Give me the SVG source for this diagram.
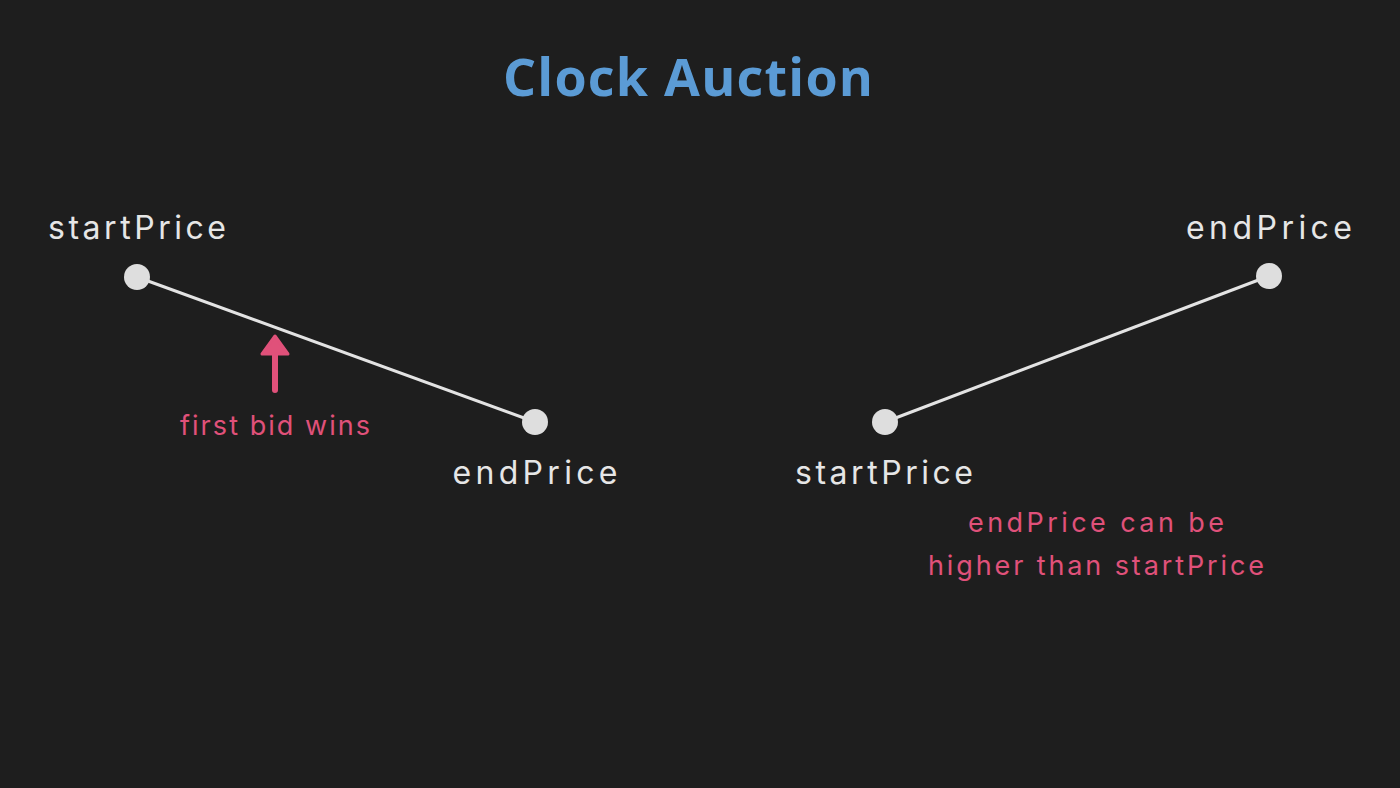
<svg xmlns="http://www.w3.org/2000/svg" width="1400" height="788" viewBox="0 0 1400 788">
<style>
.lbl{font-family:"Inter","Noto Sans",sans-serif;font-size:32px;fill:#e6e6e6}
.note{font-family:"Inter","Noto Sans",sans-serif;font-size:27px;fill:#e0517a}
.title{font-family:"Open Sans","Noto Sans",sans-serif;font-weight:bold;font-size:52px;fill:#5b9bd5}
.dot{fill:#dedede}
.edge{stroke:#e3e3e3;stroke-width:3;fill:none}
</style>
<rect width="1400" height="788" fill="#1e1e1e"/>
<text class="title" x="688" y="96" text-anchor="middle" textLength="370" lengthAdjust="spacing">Clock Auction</text>
<g id="connectors">
<line class="edge" x1="137" y1="277" x2="535" y2="422"/>
<line class="edge" x1="885" y1="422" x2="1269" y2="276"/>
</g>
<g id="left-start"><circle class="dot" cx="137" cy="277" r="13"/><text class="lbl" x="137" y="239" text-anchor="middle" textLength="178" lengthAdjust="spacing">startPrice</text></g>
<g id="left-end"><circle class="dot" cx="535" cy="422" r="13"/><text class="lbl" x="535" y="484" text-anchor="middle" textLength="165" lengthAdjust="spacing">endPrice</text></g>
<g id="right-start"><circle class="dot" cx="885" cy="422" r="13"/><text class="lbl" x="884" y="484" text-anchor="middle" textLength="178" lengthAdjust="spacing">startPrice</text></g>
<g id="right-end"><circle class="dot" cx="1269" cy="276" r="13"/><text class="lbl" x="1269" y="239" text-anchor="middle" textLength="166" lengthAdjust="spacing">endPrice</text></g>
<g id="first-bid">
<line x1="275" y1="390" x2="275" y2="352" stroke="#e0517a" stroke-width="6" stroke-linecap="round"/>
<polygon points="275,336 288,354 262,354" fill="#e0517a" stroke="#e0517a" stroke-width="3" stroke-linejoin="round"/>
<text class="note" x="275" y="435" text-anchor="middle" textLength="190" lengthAdjust="spacing">first bid wins</text>
</g>
<g id="note-right">
<text class="note" x="1096" y="532" text-anchor="middle" textLength="256" lengthAdjust="spacing">endPrice can be</text>
<text class="note" x="1096" y="575" text-anchor="middle" textLength="336" lengthAdjust="spacing">higher than startPrice</text>
</g>
</svg>
